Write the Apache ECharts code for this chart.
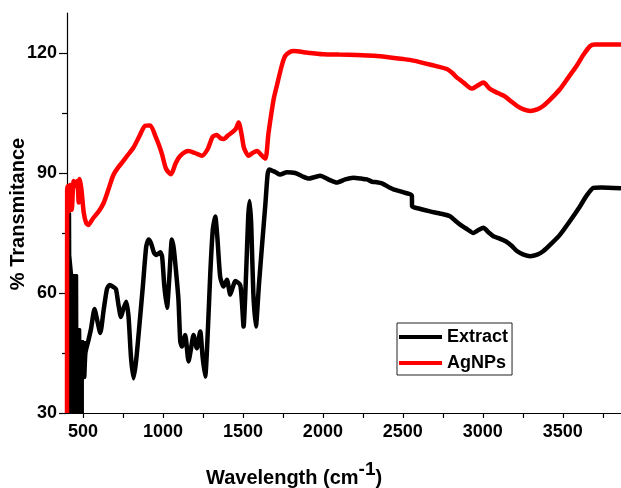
<!DOCTYPE html>
<html>
<head>
<meta charset="utf-8">
<script src="https://cdn.jsdelivr.net/npm/echarts@6/dist/echarts.min.js"></script>
<style>
html,body{margin:0;padding:0;background:#fff;}
#chart{width:621px;height:488px;}
</style>
</head>
<body>
<div id="chart"></div>
<script>
// Wavenumber (cm-1), % transmittance pairs
// Upper envelope of the densely oscillating Extract region (400-506 cm-1), drawn filled down to the axis
const extractDenseEnvelope = [
  [401,80],[420,80],[421,69.5],[432,69.5],[433,64.5],[464,64.5],[465,51],[483,51],[484,48],[506,48]
];
const extractData = [
  [506,48],[508,39],[515,45],[533,48],[550,51],[572,56],[590,53],[608,50],
  [630,56],[650,61],[666,62],[690,61.5],[706,61],[722,57],[737,54],[752,56],[770,57.8],[785,54],
  [800,44],[816,38.7],[832,43],[854,52.5],[875,62],[895,71.5],[910,73.4],[925,72.5],[945,70],[960,69.5],
  [983,70.2],[995,69],[1008,62],[1025,56.3],[1040,64],[1056,73.4],[1068,71],[1085,64],[1097,58.3],[1108,48],
  [1118,46.6],[1139,49.5],[1160,42.9],[1175,46],[1191,49.5],[1212,46.2],[1233,50.4],[1248,44],[1264,39.1],[1280,50],
  [1296,65],[1312,76],[1327,79.1],[1340,74],[1358,64],[1379,61.6],[1400,63.3],[1421,59.6],[1437,61.5],[1452,63],
  [1483,62],[1495,57],[1504,51.6],[1520,65],[1533,79],[1542,83],[1552,77],[1565,60],[1581,51.6],[1600,62],
  [1619,71.7],[1640,82],[1654,89.5],[1664,90.9],[1700,90.3],[1733,89.6],[1775,90.2],[1827,90],[1870,89.2],[1910,88.6],
  [1950,89],[1983,89.3],[2040,88.3],[2087,87.6],[2140,88.4],[2191,88.8],[2240,88.6],[2275,88.4],[2310,87.8],[2337,87.7],
  [2370,87.4],[2420,86.3],[2441,85.9],[2500,85.2],[2556,84.4],[2558,81.7],[2610,81],[2670,80.4],[2740,79.8],[2795,79.2],
  [2830,78],[2858,77.1],[2900,76],[2941,75],[2975,75.8],[3004,76.3],[3035,75.2],[3066,74.2],[3100,73.7],[3140,73],
  [3180,71.8],[3213,70.5],[3255,69.6],[3296,69.2],[3340,69.6],[3379,70.5],[3430,72.4],[3483,74.6],[3545,78],[3608,81.7],
  [3650,84.4],[3691,86.3],[3740,86.4],[3864,86.2]
];
const agnpsData = [
  [400,30],[401,85.8],[405,86.7],[411,80.5],[420,87],[430,80.8],[442,88],[455,86.7],[465,88],[473,82.6],
  [480,88.5],[490,86],[505,80],[520,77.5],[533,77],[560,78.5],[600,80.5],[629,82.5],[660,86],[690,89.5],
  [722,91.5],[744,92.6],[780,94.5],[815,96.3],[850,99],[889,101.8],[920,101.9],[952,99.3],[975,97],[994,94.7],
  [1020,91],[1050,89.7],[1080,92.5],[1108,94.3],[1160,95.5],[1200,95],[1243,94.3],[1280,96],[1310,99],[1337,99.5],
  [1360,98.7],[1379,98.5],[1410,99.5],[1431,100.1],[1455,101],[1473,102.6],[1490,100],[1505,96.5],[1515,95.5],[1535,94.3],
  [1560,95],[1588,95.5],[1615,94.5],[1640,93.6],[1660,100],[1692,108.4],[1712,111.8],[1744,117],[1765,119.3],[1796,120.3],
  [1817,120.5],[1900,120.1],[2004,119.7],[2100,119.6],[2212,119.5],[2320,119.3],[2420,118.9],[2500,118.5],[2566,118.1],[2680,117],
  [2775,116],[2810,115],[2837,113.9],[2880,112.6],[2931,111.1],[2965,111.8],[3004,112.6],[3040,111.2],[3077,110.3],[3110,109.7],
  [3140,109.1],[3180,107.8],[3213,106.8],[3255,105.9],[3296,105.5],[3340,105.9],[3379,106.8],[3430,108.7],[3483,111],[3535,113.9],
  [3587,116.8],[3630,119.6],[3670,121.7],[3700,122.1],[3733,122.1],[3864,122.1]
];
const seriesNames = ['Extract', 'AgNPs'];
const seriesColors = ['#000000', '#ff0000'];
const xLabelValues = [500, 1000, 1500, 2000, 2500, 3000, 3500];
const xTickValues = [500, 750, 1000, 1250, 1500, 1750, 2000, 2250, 2500, 2750, 3000, 3250, 3500, 3750];
const yLabelValues = [30, 60, 90, 120];
const yMinorTickValues = [45, 75, 105];
const xTitle = ['Wavelength (cm', '-1', ')'];
const yTitle = '% Transmitance';

const FONT = '"Liberation Sans", Arial, sans-serif';
const chart = echarts.init(document.getElementById('chart'), null, {renderer: 'canvas'});
const axisLineStyle = {color: '#000', width: 1.2};
const plainNum = v => String(v);
chart.setOption({
  animation: false,
  backgroundColor: '#fff',
  grid: {left: 67, right: 0, top: 13, bottom: 75, containLabel: false, outerBoundsMode: 'none'},
  legend: {
    orient: 'vertical', left: 397, top: 323,
    data: seriesNames, icon: 'rect', itemWidth: 43, itemHeight: 4, itemGap: 8,
    padding: [5, 4, 3, 2], borderColor: '#222', borderWidth: 1,
    textStyle: {fontFamily: FONT, fontWeight: 'bold', fontSize: 18, color: '#000', lineHeight: 18}
  },
  xAxis: {
    type: 'value', min: 400, max: 3864,
    axisLine: {show: true, onZero: false, lineStyle: axisLineStyle},
    axisTick: {show: true, length: 5, customValues: xTickValues, lineStyle: axisLineStyle},
    axisLabel: {customValues: xLabelValues, formatter: plainNum, margin: 10, fontFamily: FONT, fontWeight: 'bold', fontSize: 18, color: '#000'},
    splitLine: {show: false}
  },
  yAxis: [{
    type: 'value', min: 30, max: 130, position: 'left',
    axisLine: {show: true, onZero: false, lineStyle: axisLineStyle},
    axisTick: {show: true, length: 8, customValues: yLabelValues, lineStyle: axisLineStyle},
    axisLabel: {customValues: yLabelValues, formatter: plainNum, margin: 10, fontFamily: FONT, fontWeight: 'bold', fontSize: 18, color: '#000'},
    splitLine: {show: false}
  }, {
    type: 'value', min: 30, max: 130, position: 'left',
    axisLine: {show: false},
    axisTick: {show: true, length: 5, customValues: yMinorTickValues, lineStyle: axisLineStyle},
    axisLabel: {show: false},
    splitLine: {show: false}
  }],
  series: [{
    name: seriesNames[0], type: 'line', data: extractData, yAxisIndex: 0,
    showSymbol: false, smooth: 0.2, color: seriesColors[0],
    lineStyle: {color: seriesColors[0], width: 4.5, join: 'round'}
  }, {
    name: seriesNames[0], type: 'line', data: extractDenseEnvelope, yAxisIndex: 0,
    showSymbol: false, smooth: false, color: seriesColors[0],
    lineStyle: {color: seriesColors[0], width: 2},
    areaStyle: {color: seriesColors[0], opacity: 1, origin: 'start'}
  }, {
    name: seriesNames[1], type: 'line', data: agnpsData, yAxisIndex: 0,
    showSymbol: false, smooth: 0.25, color: seriesColors[1],
    lineStyle: {color: seriesColors[1], width: 4.5}
  }],
  graphic: [{
    type: 'text', left: 206, top: 460,
    style: {
      text: '{a|' + xTitle[0] + '}{b|' + xTitle[1] + '}{a|' + xTitle[2] + '}',
      rich: {
        a: {fontFamily: FONT, fontWeight: 'bold', fontSize: 20, lineHeight: 36, fill: '#000'},
        b: {fontFamily: FONT, fontWeight: 'bold', fontSize: 19, lineHeight: 18, verticalAlign: 'top', fill: '#000'}
      }
    }
  }, {
    type: 'text', x: 18.3, y: 214, rotation: Math.PI / 2,
    style: {text: yTitle, font: 'bold 20px ' + FONT, fill: '#000', align: 'center', verticalAlign: 'middle'}
  }]
});
</script>
</body>
</html>
